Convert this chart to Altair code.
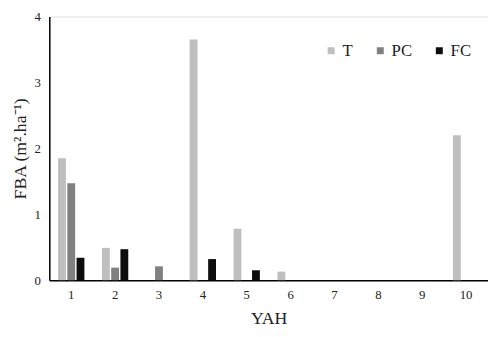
import altair as alt
import pandas as pd

yah = [1, 2, 3, 4, 5, 6, 7, 8, 9, 10]
t_vals = [1.85, 0.49, 0.0, 3.65, 0.78, 0.13, 0.0, 0.0, 0.0, 2.2]
pc_vals = [1.47, 0.19, 0.21, 0.0, 0.0, 0.0, 0.0, 0.0, 0.0, 0.0]
fc_vals = [0.34, 0.47, 0.0, 0.32, 0.15, 0.0, 0.0, 0.0, 0.0, 0.0]
series = ["T", "PC", "FC"]
colors = ["#bfbfbf", "#808080", "#0d0d0d"]

rows = []
for name, vals in zip(series, [t_vals, pc_vals, fc_vals]):
    for x, v in zip(yah, vals):
        rows.append({"YAH": str(x), "series": name, "FBA": v})
df = pd.DataFrame(rows)

font = "'Liberation Serif', 'Times New Roman', Times, serif"

chart = alt.Chart(df).mark_bar().encode(
    x=alt.X("YAH:N", sort=[str(v) for v in yah],
            scale=alt.Scale(paddingInner=0.4, paddingOuter=0.2),
            axis=alt.Axis(title="YAH", labelAngle=0, ticks=False, domainColor="#000000",
                          domainWidth=1.5, labelFont=font, labelFontSize=13, labelColor="#222222",
                          labelPadding=9, titleFont=font, titleFontSize=18, titleFontWeight="normal",
                          titleColor="#222222", titlePadding=8, grid=False)),
    xOffset=alt.XOffset("series:N", sort=series, scale=alt.Scale(paddingInner=0.15)),
    y=alt.Y("FBA:Q", scale=alt.Scale(domain=[0, 4]),
            axis=alt.Axis(title="FBA (m².ha⁻¹)", values=[0, 1, 2, 3, 4], ticks=False,
                          domainColor="#000000", domainWidth=1.5, labelFont=font, labelFontSize=13,
                          labelColor="#222222", labelPadding=9, titleFont=font, titleFontSize=18,
                          titleFontWeight="normal", titleColor="#222222", titlePadding=5, grid=False)),
    color=alt.Color("series:N", sort=series,
                    scale=alt.Scale(domain=series, range=colors),
                    legend=alt.Legend(title=None, orient="none", legendX=278, legendY=26,
                                      direction="horizontal", symbolType="square", symbolSize=50,
                                      symbolStrokeWidth=0, labelFont=font, labelFontSize=17,
                                      labelColor="#222222", columnPadding=19, labelOffset=3)),
).properties(
    width=446, height=268,
    autosize=alt.AutoSizeParams(type="none"),
    padding={"left": 42, "top": 6, "right": 0, "bottom": 50},
).configure_view(stroke=None).configure(background="white")

chart.save("out.html", embed_options={"renderer": "svg", "actions": False})
